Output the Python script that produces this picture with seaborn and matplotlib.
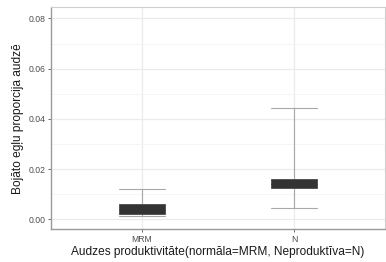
import numpy as np
import pandas as pd
import matplotlib
matplotlib.use("Agg")
import matplotlib.pyplot as plt
import seaborn as sns

categories = ["MRM", "N"]
whisker_low = [0.0014, 0.0045]
q1 = [0.0022, 0.0124]
median = [0.0040, 0.0142]
q3 = [0.0062, 0.0161]
whisker_high = [0.0120, 0.0442]
y_ticks = [0.00, 0.02, 0.04, 0.06, 0.08]
y_tick_labels = ["0.00", "0.02", "0.04", "0.06", "0.08"]

rows = []
for i, c in enumerate(categories):
    for v in (whisker_low[i], q1[i], median[i], q3[i], whisker_high[i]):
        rows.append({"group": c, "value": v})
df = pd.DataFrame(rows)

sns.set_theme(style="white")
plt.rcParams["font.family"] = ["Liberation Sans", "DejaVu Sans"]

fig, ax = plt.subplots(figsize=(3.86, 2.62), dpi=100)
fig.subplots_adjust(left=0.132, right=0.998, top=0.972, bottom=0.125)

sns.boxplot(
    data=df, x="group", y="value", order=categories, ax=ax,
    whis=np.inf, width=0.3, capwidths=0.3,
    boxprops=dict(facecolor="#333333", edgecolor="#4a4a4a", linewidth=0.6, zorder=3),
    medianprops=dict(color="#333333", linewidth=0.6, zorder=3),
    whiskerprops=dict(color="#a8a8a8", linewidth=0.8, zorder=2),
    capprops=dict(color="#a8a8a8", linewidth=0.8, zorder=2),
    showfliers=False,
)

ax.set_xlim(-0.6, 1.6)
ax.set_ylim(-0.0039, 0.0844)
ax.set_yticks(y_ticks)
ax.set_yticklabels(y_tick_labels)
ax.set_yticks([0.01, 0.03, 0.05, 0.07], minor=True)

ax.set_axisbelow(True)
ax.grid(True, which="major", color="#ebebeb", linewidth=0.9)
ax.grid(True, which="minor", axis="y", color="#f4f4f4", linewidth=0.6)

for side in ("left", "bottom"):
    ax.spines[side].set_color("#9a9a9a")
    ax.spines[side].set_linewidth(1.0)
for side in ("top", "right"):
    ax.spines[side].set_color("#cfcfcf")
    ax.spines[side].set_linewidth(0.8)

ax.tick_params(axis="both", which="major", length=2.5, width=0.6, color="#555555",
               labelcolor="#4d4d4d", labelsize=6.2, pad=1.5, left=True, bottom=True)
ax.tick_params(axis="y", which="minor", length=0)

ax.set_xlabel("Audzes produktivitāte(normāla=MRM, Neproduktīva=N)", fontsize=8.6,
              color="#1a1a1a", labelpad=1.5)
ax.set_ylabel("Bojāto egļu proporcija audzē", fontsize=8.6, color="#1a1a1a", labelpad=3)

fig.savefig("out.png", dpi=100)
